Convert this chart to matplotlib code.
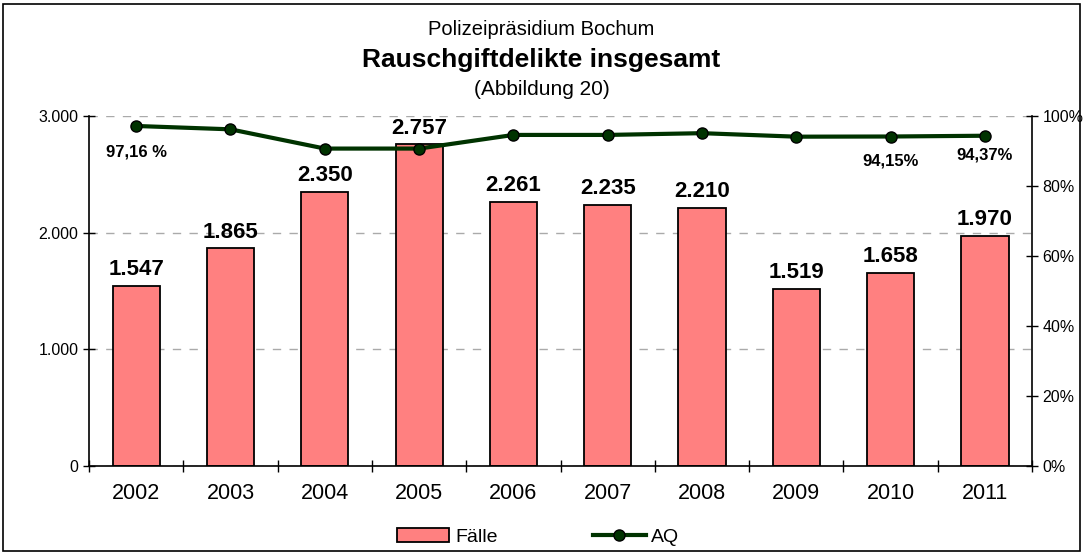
import matplotlib.pyplot as plt
from matplotlib.lines import Line2D
from matplotlib.patches import Patch, Rectangle
from matplotlib.ticker import FixedLocator, FuncFormatter

plt.rcParams['font.family'] = ['Liberation Sans', 'DejaVu Sans']

# data
years = ['2002', '2003', '2004', '2005', '2006', '2007', '2008', '2009', '2010', '2011']
faelle = [1547, 1865, 2350, 2757, 2261, 2235, 2210, 1519, 1658, 1970]
aq = [97.16, 96.2, 90.7, 90.7, 94.6, 94.6, 95.1, 94.1, 94.15, 94.37]
aq_labels = {0: '97,16 %', 8: '94,15%', 9: '94,37%'}

bar_color = '#FF8080'
line_color = '#003300'

fig = plt.figure(figsize=(10.83, 5.52), dpi=100)
ax = fig.add_axes([0.0822, 0.1558, 0.8708, 0.634])
x = list(range(len(years)))

ax.bar(x, faelle, width=0.5, color=bar_color, edgecolor='black', linewidth=1.3, zorder=2)
for xi, v in zip(x, faelle):
    ax.text(xi, v + 50, f'{v:,}'.replace(',', '.'), ha='center', va='bottom',
            fontsize=16, fontweight='bold', zorder=5)

ax.set_xlim(-0.5, len(years) - 0.5)
ax.set_ylim(0, 3000)
ax.set_yticks([0, 1000, 2000, 3000])
ax.yaxis.set_major_formatter(FuncFormatter(lambda v, p: f'{int(v):,}'.replace(',', '.')))
ax.set_xticks(x)
ax.set_xticklabels(years, fontsize=15.5)
ax.xaxis.set_minor_locator(FixedLocator([i + 0.5 for i in range(-1, len(years))]))
ax.tick_params(axis='x', which='major', length=0, pad=12)
ax.tick_params(axis='x', which='minor', length=8, direction='inout', width=1)
ax.tick_params(axis='y', labelsize=11.5, length=8, direction='inout', width=1)
ax.grid(axis='y', color='#aaaaaa', linestyle=(0, (6, 6)), linewidth=1, zorder=0)
ax.spines['top'].set_visible(False)
ax.spines['right'].set_visible(False)
for s in ['left', 'bottom']:
    ax.spines[s].set_linewidth(1.2)

ax2 = ax.twinx()
ax2.plot(x, aq, color=line_color, linewidth=3, marker='o', markersize=8,
         markerfacecolor='#003300', markeredgecolor='black', zorder=4)
ax2.set_ylim(0, 100)
ax2.set_yticks([0, 20, 40, 60, 80, 100])
ax2.yaxis.set_major_formatter(FuncFormatter(lambda v, p: f'{int(v)}%'))
ax2.tick_params(axis='y', labelsize=11.5, length=8, direction='inout', width=1)
ax2.spines['top'].set_visible(False)
ax2.spines['left'].set_visible(False)
ax2.spines['bottom'].set_visible(False)
ax2.spines['right'].set_linewidth(1.2)

offsets = {0: -7.5, 8: -7.0, 9: -5.5}
for i, t in aq_labels.items():
    ax2.text(x[i], aq[i] + offsets[i], t, ha='center', va='center',
             fontsize=12, fontweight='bold')

fig.text(0.5, 0.946, 'Polizeipräsidium Bochum', ha='center', va='center', fontsize=14.5)
fig.text(0.5, 0.891, 'Rauschgiftdelikte insgesamt', ha='center', va='center',
         fontsize=19, fontweight='bold')
fig.text(0.5, 0.838, '(Abbildung 20)', ha='center', va='center', fontsize=15)

handles = [Patch(facecolor=bar_color, edgecolor='black', linewidth=1.3),
           Line2D([], [], color=line_color, linewidth=3, marker='o', markersize=8,
                  markerfacecolor='#003300', markeredgecolor='black')]
fig.legend(handles, ['Fälle', 'AQ'], loc='center', bbox_to_anchor=(0.497, 0.027),
           ncol=2, frameon=False, fontsize=14, columnspacing=4.9, handlelength=2.7,
           handletextpad=0.3)

fig.patches.append(Rectangle((0.003, 0.002), 0.994, 0.99, transform=fig.transFigure,
                             fill=False, edgecolor='black', linewidth=1.2))

fig.savefig('out.png', dpi=100)
